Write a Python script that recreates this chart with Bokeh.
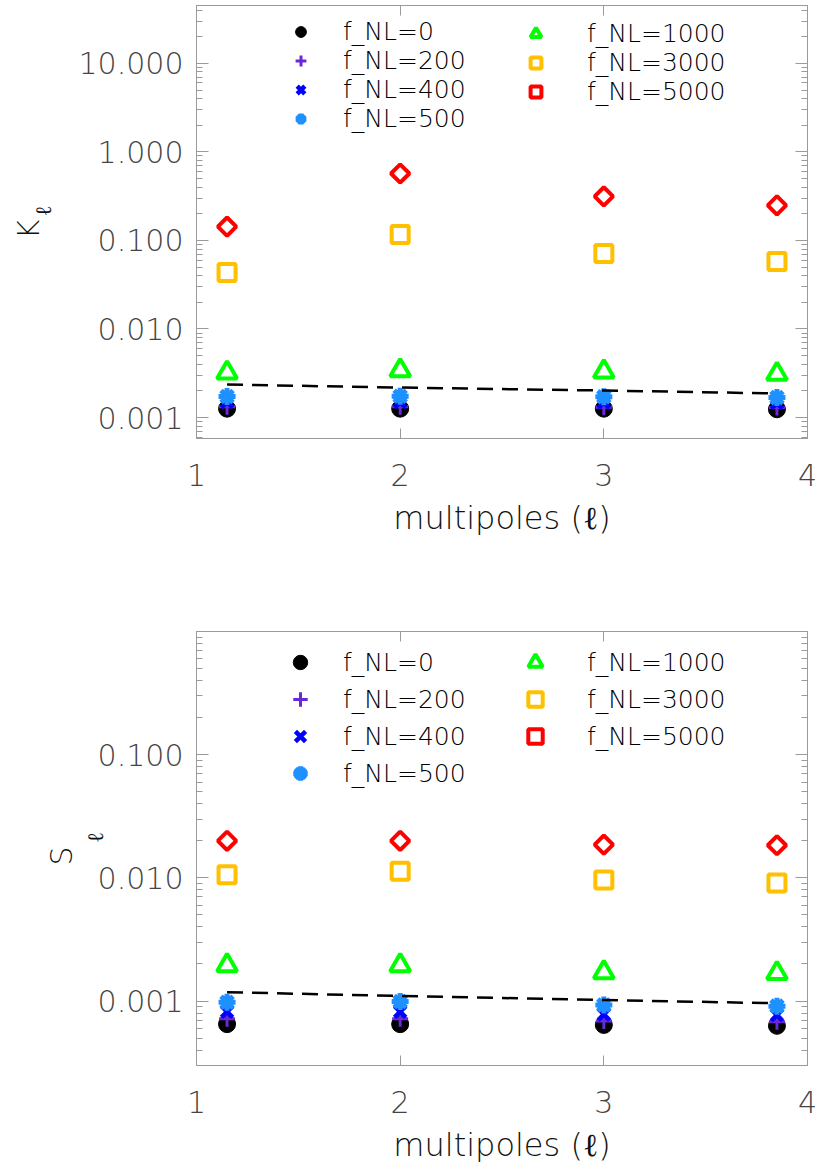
import numpy as np
from bokeh.plotting import figure
from bokeh.layouts import column
from bokeh.models import (LogAxis, LinearAxis, FixedTicker, PrintfTickFormatter,
                          CustomJSTickFormatter, Legend, LegendItem, Range1d)
from bokeh.embed import file_html
from bokeh.resources import INLINE

# ---------------- data ----------------
ell = [1.15, 2.0, 3.0, 3.85]
fnl_labels = ["f_NL=0", "f_NL=200", "f_NL=400", "f_NL=500",
              "f_NL=1000", "f_NL=3000", "f_NL=5000"]

K_fnl0 = [0.00126, 0.00126, 0.00126, 0.00124]
K_fnl200 = [0.00132, 0.00132, 0.00131, 0.00130]
K_fnl400 = [0.00150, 0.00150, 0.00148, 0.00146]
K_fnl500 = [0.00173, 0.00174, 0.00172, 0.00168]
K_fnl1000 = [0.0032, 0.0034, 0.0033, 0.0031]
K_fnl3000 = [0.0435, 0.117, 0.0713, 0.058]
K_fnl5000 = [0.143, 0.57, 0.314, 0.249]
K_gauss = [0.00236, 0.00218, 0.00202, 0.00187]

S_fnl0 = [0.00065, 0.00065, 0.00064, 0.00063]
S_fnl200 = [0.00072, 0.00072, 0.00069, 0.00068]
S_fnl400 = [0.00082, 0.00082, 0.00078, 0.00077]
S_fnl500 = [0.00098, 0.00099, 0.00093, 0.00091]
S_fnl1000 = [0.00195, 0.00195, 0.00171, 0.00168]
S_fnl3000 = [0.0106, 0.0113, 0.0096, 0.0091]
S_fnl5000 = [0.0200, 0.0200, 0.0186, 0.0184]
S_gauss = [0.00118, 0.00110, 0.00102, 0.00096]

x_ticks = [1, 2, 3, 4]
K_ticks = [0.001, 0.01, 0.1, 1.0, 10.0]
S_ticks = [0.001, 0.01, 0.1]

# ---------------- styles ----------------
styles = [
    dict(marker="circle", color="#000000", size=17, lw=1, fill=True, angle=0.0),
    dict(marker="cross", color="#6a28d8", size=16, lw=3, fill=False, angle=0.0),
    dict(marker="x", color="#0000ff", size=16, lw=4.5, fill=False, angle=0.0),
    dict(marker="asterisk", color="#1e90ff", size=17, lw=5, fill=False, angle=0.0),
    dict(marker="triangle", color="#00ff00", size=20, lw=4, fill=False, angle=0.0),
    dict(marker="square", color="#ffc000", size=17, lw=4, fill=False, angle=0.0),
    dict(marker="square", color="#ff0000", size=13, lw=4, fill=False, angle=np.pi / 4),
]

LIGHT = "DejaVu Sans Light"
GREY = "#9a9a9a"
BLANK = CustomJSTickFormatter(code="return ''")


def minor_list(lo_exp, hi_exp):
    return [m * 10.0 ** e for e in range(lo_exp, hi_exp + 1) for m in range(2, 10)]


def make_panel(series, ref, ylo, yhi, yticks, ylab, fh, btop, bbot,
               leg_top, leg_gh, leg_spacing, sub_standoff, main_standoff):
    p = figure(frame_width=611, frame_height=fh,
               min_border_left=196, min_border_right=10,
               min_border_top=btop, min_border_bottom=bbot,
               x_range=Range1d(1, 4), y_range=Range1d(ylo, yhi),
               y_axis_type="log", output_backend="svg", toolbar_location=None,
               background_fill_color="white", border_fill_color="white",
               outline_line_color=GREY, outline_line_width=1)
    p.grid.visible = False

    yt = FixedTicker(ticks=yticks, minor_ticks=minor_list(-5, 2))
    xt = FixedTicker(ticks=x_ticks)

    xa = p.xaxis[0]
    xa.ticker = xt
    xa.major_tick_in = 10
    xa.major_tick_out = 0
    xa.minor_tick_line_color = None
    xa.major_tick_line_color = GREY
    xa.axis_line_color = GREY
    xa.major_label_text_font = LIGHT
    xa.major_label_text_font_size = "30px"
    xa.major_label_text_color = "#444444"
    xa.major_label_standoff = 25
    xa.axis_label = "multipoles (\u2113)"
    xa.axis_label_text_font = LIGHT
    xa.axis_label_text_font_size = "32px"
    xa.axis_label_text_font_style = "normal"
    xa.axis_label_text_color = "#111111"
    xa.axis_label_standoff = 10

    ya = p.yaxis[0]
    ya.ticker = yt
    ya.formatter = PrintfTickFormatter(format="%.3f")
    ya.major_tick_in = 12
    ya.major_tick_out = 0
    ya.minor_tick_in = 6
    ya.minor_tick_out = 0
    ya.major_tick_line_color = GREY
    ya.minor_tick_line_color = GREY
    ya.axis_line_color = GREY
    ya.major_label_text_font = LIGHT
    ya.major_label_text_font_size = "30px"
    ya.major_label_text_color = "#444444"
    ya.major_label_standoff = 13
    # subscript ell of the y title, drawn as the inner axis label
    ya.axis_label = "\u2003\u2113"
    ya.axis_label_text_font = LIGHT
    ya.axis_label_text_font_size = "22px"
    ya.axis_label_text_font_style = "normal"
    ya.axis_label_text_color = "#111111"
    ya.axis_label_standoff = sub_standoff

    # outer left axis that only carries the main letter of the y title
    la = LogAxis(ticker=FixedTicker(ticks=[]), formatter=BLANK,
                 axis_line_color=None, major_tick_line_color=None,
                 minor_tick_line_color=None, major_label_standoff=0,
                 axis_label=ylab + "\u2002", axis_label_text_font=LIGHT,
                 axis_label_text_font_size="30px",
                 axis_label_text_font_style="normal",
                 axis_label_text_color="#111111",
                 axis_label_standoff=main_standoff)
    p.add_layout(la, "left")

    ra = LogAxis(ticker=yt, formatter=BLANK, major_tick_in=12, major_tick_out=0,
                 minor_tick_in=6, minor_tick_out=0,
                 major_tick_line_color=GREY, minor_tick_line_color=GREY,
                 axis_line_color=GREY, major_label_standoff=0)
    p.add_layout(ra, "right")
    ta = LinearAxis(ticker=xt, formatter=BLANK, major_tick_in=10, major_tick_out=0,
                    minor_tick_line_color=None, major_tick_line_color=GREY,
                    axis_line_color=GREY, major_label_standoff=0)
    p.add_layout(ta, "above")

    rends = []
    for vals, st in zip(series, styles):
        r = p.scatter(ell, vals, marker=st["marker"], size=st["size"],
                      line_color=st["color"], line_width=st["lw"],
                      fill_color=st["color"] if st["fill"] else None,
                      angle=st["angle"])
        rends.append(r)

    p.line(ell, ref, line_color="black", line_width=2.5, line_dash="16 9")

    # legends (two columns)
    cols = [(0, 4, 104, 25), (4, 7, 339, 34)]
    for a, b, xc, standoff in cols:
        n = b - a
        h = n * leg_gh + (n - 1) * leg_spacing
        items = [LegendItem(label=fnl_labels[i], renderers=[rends[i]]) for i in range(a, b)]
        leg = Legend(items=items,
                     location=(int(xc - leg_gh // 2), int(fh - leg_top - h)),
                     glyph_width=leg_gh, glyph_height=leg_gh, label_height=leg_gh,
                     spacing=leg_spacing, padding=0, margin=0,
                     label_standoff=int(standoff + (36 - leg_gh) // 2),
                     border_line_color=None, background_fill_alpha=0,
                     label_text_font=LIGHT, label_text_font_size="25px",
                     label_text_color="#000000")
        p.add_layout(leg, "center")
    return p


K_series = [K_fnl0, K_fnl200, K_fnl400, K_fnl500, K_fnl1000, K_fnl3000, K_fnl5000]
S_series = [S_fnl0, S_fnl200, S_fnl400, S_fnl500, S_fnl1000, S_fnl3000, S_fnl5000]

p1 = make_panel(K_series, K_gauss, 5.8e-4, 45.0, K_ticks, "K", 433, 5, 162,
                20, 27, 0, 20, -18)
p2 = make_panel(S_series, S_gauss, 3.0e-4, 1.0, S_ticks, "S", 434, 31, 100,
                13, 36, 1, -13, 1)

layout = column(p1, p2, spacing=0)
open("out.html", "w").write(file_html(layout, INLINE))
